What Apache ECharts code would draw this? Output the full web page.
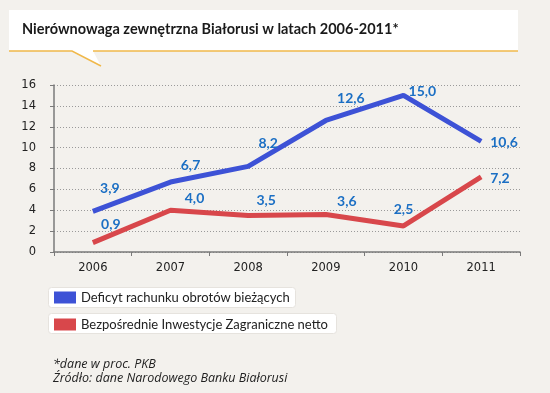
<!DOCTYPE html>
<html><head><meta charset="utf-8">
<script src="https://cdn.jsdelivr.net/npm/echarts@6/dist/echarts.min.js"></script>
<style>html,body{margin:0;padding:0;background:#f3f1ed;}#c{width:550px;height:393px;}</style>
</head><body><div id="c"></div>
<script>
const years = ['2006','2007','2008','2009','2010','2011'];
const deficit = [3.9, 6.7, 8.2, 12.6, 15.0, 10.6];
const fdi = [0.9, 4.0, 3.5, 3.6, 2.5, 7.2];
const seriesNames = ['Deficyt rachunku obrotów bieżących', 'Bezpośrednie Inwestycje Zagraniczne netto'];
const titleText = 'Nierównowaga zewnętrzna Białorusi w latach 2006-2011*';
const notes = ['*dane w proc. PKB', 'Źródło: dane Narodowego Banku Białorusi'];

// label placement (style only)
const deficitLabelPos = [['top',[17,-11]],['top',[20,-5]],['top',[20,-11]],['top',[25,-10]],['right',[0,-4]],['right',[4,1]]];
const fdiLabelPos = [['top',[18,-6]],['top',[24,0]],['top',[18,-3]],['top',[21,-1]],['top',[0,-4]],['right',[4,2]]];

const fmt = v => v.toFixed(1).replace('.', ',');
function build(vals, pos){
  return vals.map((v,i)=>({value:v, label:{position:pos[i][0], offset:pos[i][1]}}));
}
const labelStyle = {show:true, formatter:p=>fmt(p.value), color:'#1b6fc4', fontFamily:'Lato', fontWeight:'bold', fontSize:14};

const chart = echarts.init(document.getElementById('c'), null, {renderer:'canvas'});
chart.setOption({
  backgroundColor:'#f3f1ed',
  animation:false,
  textStyle:{fontFamily:'Lato'},
  grid:{left:54, right:30, top:85, bottom:141},
  graphic:[
    {type:'rect', shape:{x:9,y:10,width:509,height:41}, style:{fill:'#ffffff'}, z:-1},
    {type:'polygon', shape:{points:[[72,51],[93,51],[101,66]]}, style:{fill:'#ffffff'}, z:-1},
    {type:'polyline', shape:{points:[[9,51],[72,51],[101,66]]}, style:{stroke:'#f0b84a', lineWidth:1.5, fill:null}, z:1},
    {type:'line', shape:{x1:93,y1:51,x2:518,y2:51}, style:{stroke:'#f0b84a', lineWidth:1.5}, z:1},
    {type:'text', left:22, top:22, style:{text:titleText, font:'bold 14.5px Lato', fill:'#1a1a1a'}, z:2},
    {type:'rect', shape:{x:48.5,y:287.5,width:247,height:20,r:3}, style:{fill:'#ffffff', stroke:'#e6e3de', lineWidth:1}, z:-1},
    {type:'rect', shape:{x:48.5,y:313.5,width:288,height:20,r:3}, style:{fill:'#ffffff', stroke:'#e6e3de', lineWidth:1}, z:-1},
    {type:'text', left:53, top:358, style:{text:notes[0], font:'italic 12.5px "Open Sans"', fill:'#222'}},
    {type:'text', left:53, top:372, style:{text:notes[1], font:'italic 12.5px "Open Sans"', fill:'#222'}}
  ],
  legend:{
    orient:'vertical', left:54, top:291, padding:0, itemGap:14, itemWidth:22, itemHeight:12,
    icon:'rect', data:seriesNames,
    textStyle:{fontSize:13, color:'#222', fontFamily:'Lato'}
  },
  xAxis:{
    type:'category', data:years, boundaryGap:true,
    axisLine:{lineStyle:{color:'#7a7a7a', width:1.5}},
    axisTick:{show:true, length:4, lineStyle:{color:'#7a7a7a'}},
    axisLabel:{color:'#222', fontSize:11.5, fontFamily:'DejaVu Sans', margin:10}
  },
  yAxis:{
    type:'value', min:0, max:16, interval:2,
    axisLine:{show:true, lineStyle:{color:'#7a7a7a', width:1.5}},
    axisTick:{show:true, length:4, lineStyle:{color:'#7a7a7a'}},
    axisLabel:{color:'#222', fontSize:11.5, fontFamily:'DejaVu Sans', margin:18},
    splitLine:{lineStyle:{color:'#9a9a9a', type:[1,2]}}
  },
  series:[
    {name:seriesNames[0], type:'line', data:build(deficit, deficitLabelPos), symbol:'circle', symbolSize:0.1, showSymbol:true,
     lineStyle:{width:5, color:'#3d52d6'}, itemStyle:{color:'#3d52d6'}, label:labelStyle, z:3},
    {name:seriesNames[1], type:'line', data:build(fdi, fdiLabelPos), symbol:'circle', symbolSize:0.1, showSymbol:true,
     lineStyle:{width:5, color:'#d8474b'}, itemStyle:{color:'#d8474b'}, label:labelStyle, z:2}
  ]
});
</script></body></html>
